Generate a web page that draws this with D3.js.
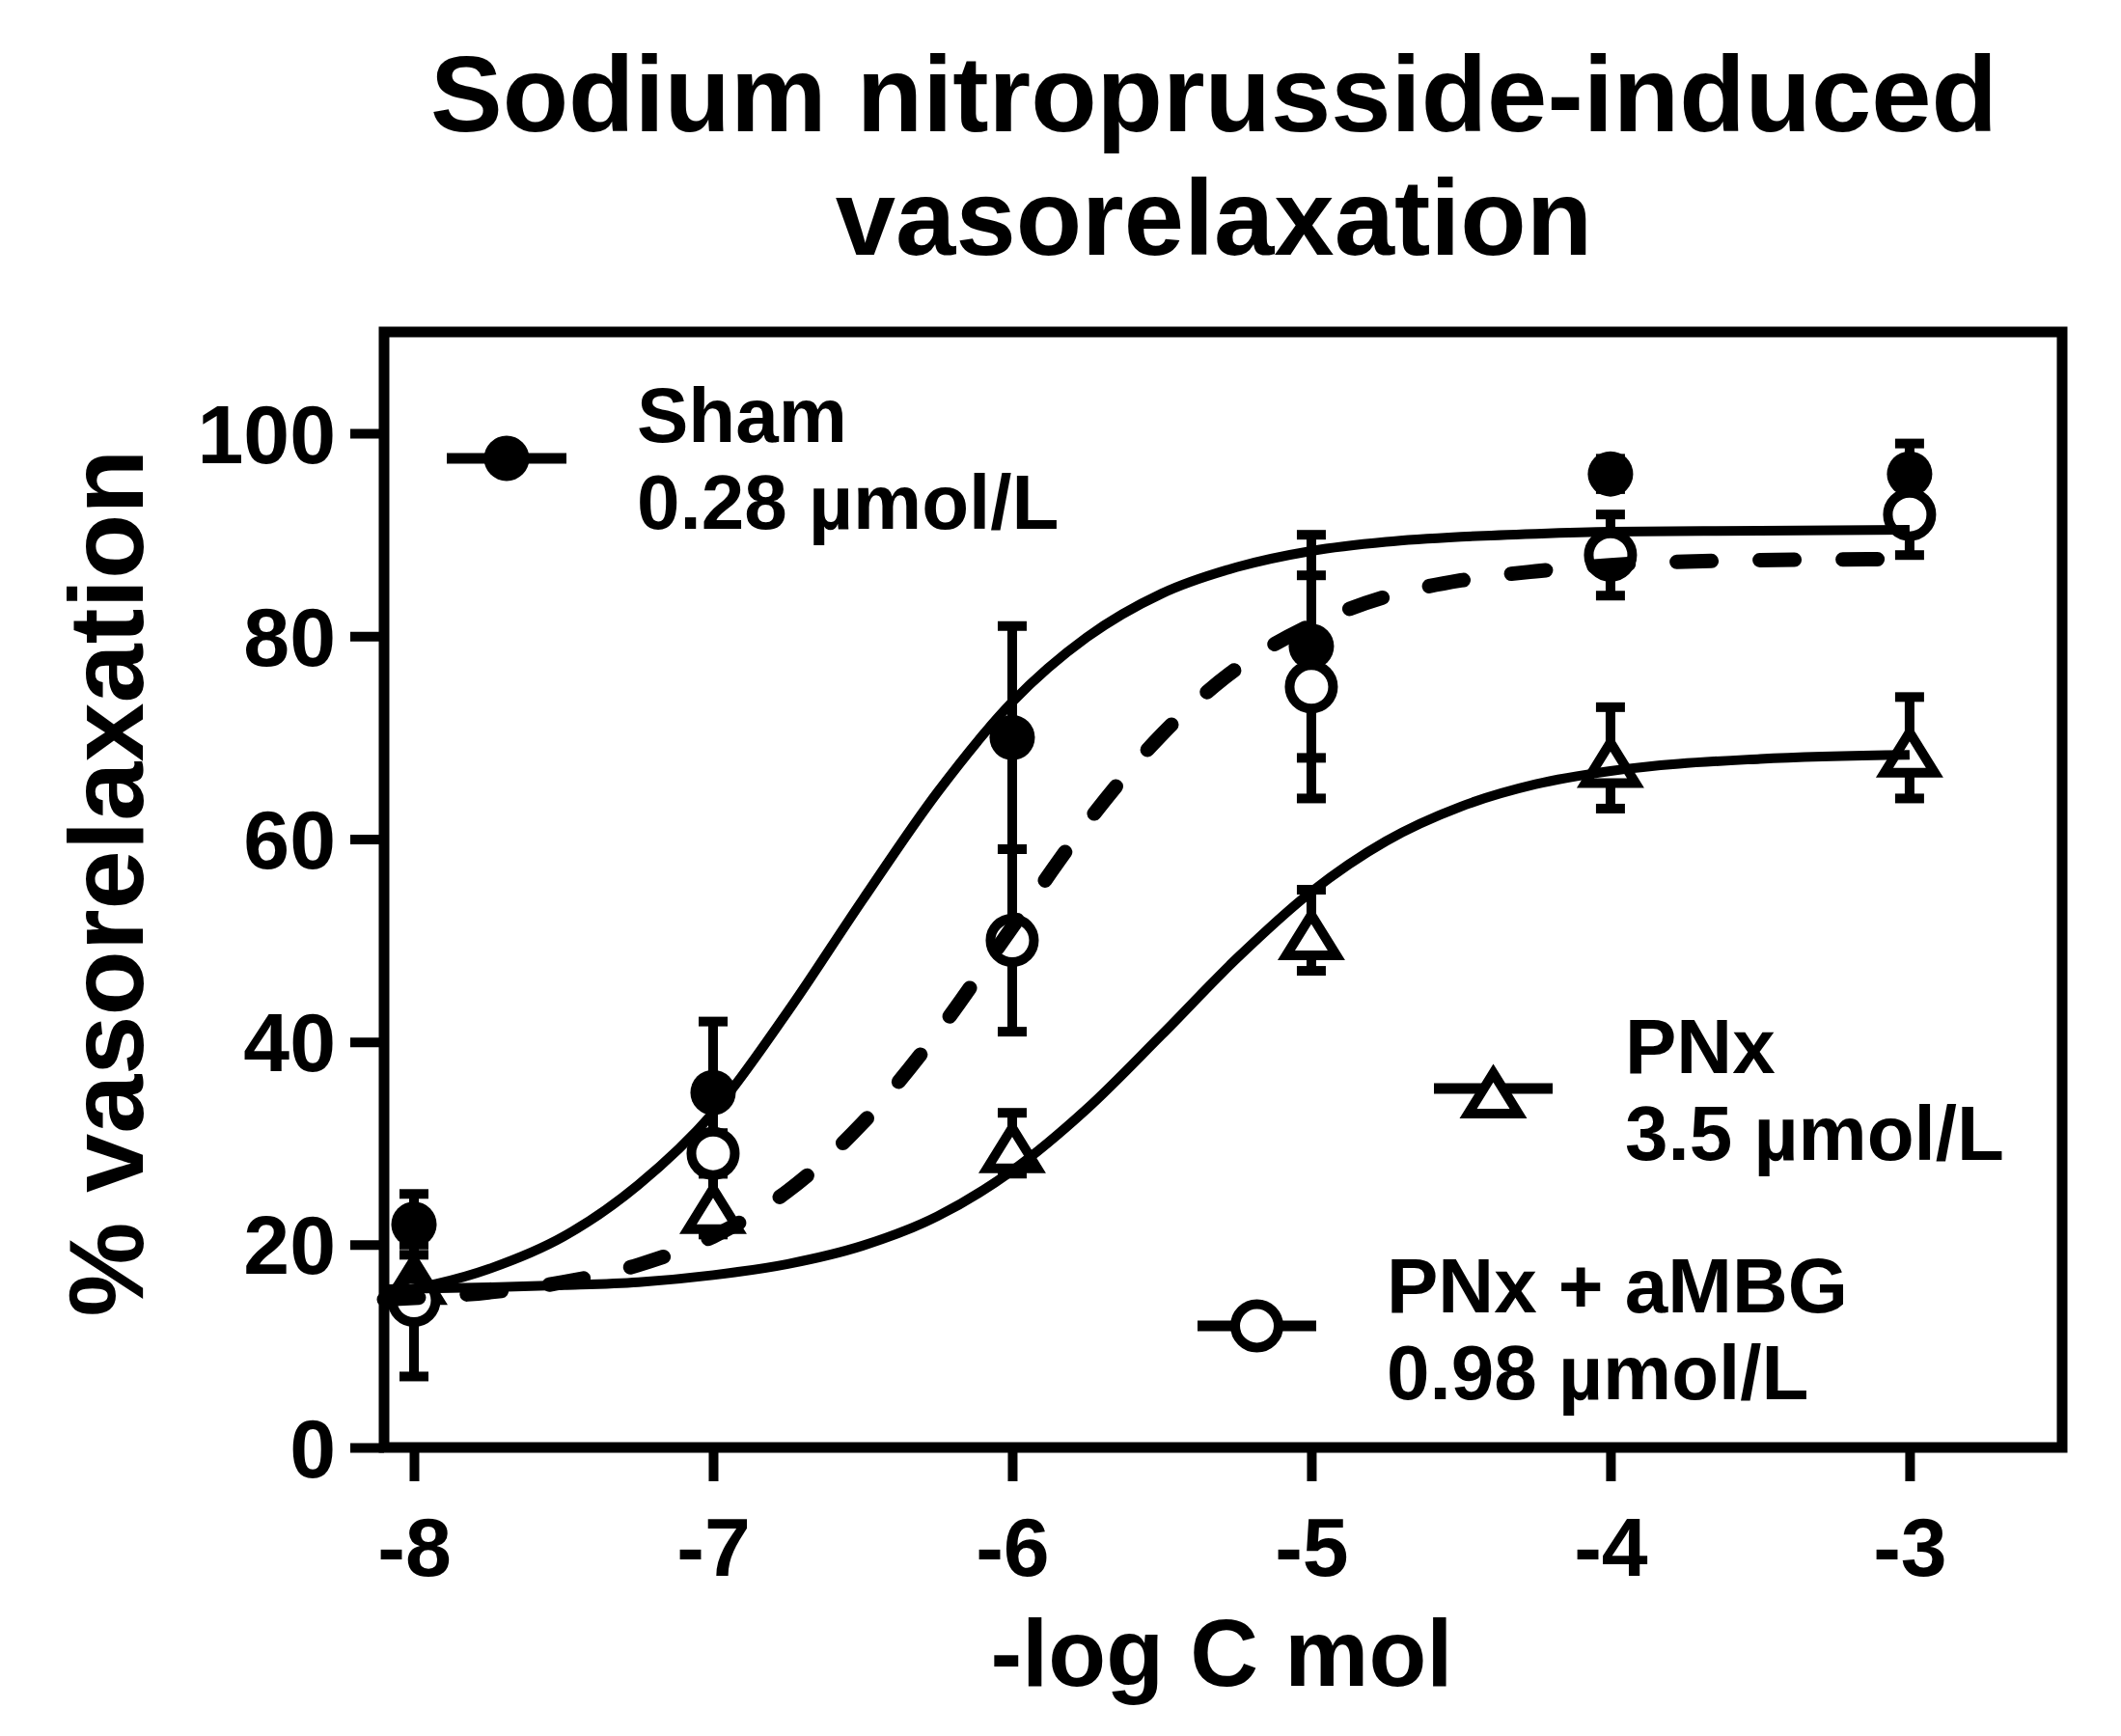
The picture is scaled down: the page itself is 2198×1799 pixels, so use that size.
<!DOCTYPE html>
<html><head><meta charset="utf-8">
<script src="https://cdn.jsdelivr.net/npm/d3@7"></script>
<style>
body{margin:0;background:#fff}
svg{display:block}
text{font-family:Arial,"Liberation Sans",sans-serif;font-weight:bold;fill:#000}
</style>
</head><body>
<svg id="c" width="2198" height="1799"></svg>
<script>
// ---- data ----
const doses = [-8, -7, -6, -5, -4, -3];
const xTicks = [-8, -7, -6, -5, -4, -3];
const yTicks = [0, 20, 40, 60, 80, 100];
const seriesNames = ["Sham", "PNx", "PNx + aMBG"];
const ec50Labels = ["0.28 µmol/L", "3.5 µmol/L", "0.98 µmol/L"];
const shamMean = [22, 35, 70, 79, 96, 96];
const shamSem  = [3, 7, 11, 11, 1.5, 3];
const pnxMean  = [17, 24, 30, 51, 68, 69];
const pnxSem   = [3, 3, 3, 4, 5, 5];
const ambgMean = [14.5, 29, 50, 75, 88, 92];
const ambgSem  = [7.5, 2, 9, 11, 4, 4];
const curveX     = [-8.1, -7.75, -7.5, -7.25, -7, -6.75, -6.5, -6.25, -6, -5.75, -5.5, -5.25, -5, -4.75, -4.5, -4.25, -4, -3.5, -3];
const shamCurve  = [15.1, 17.6, 20.8, 25.9, 33.0, 43.0, 54.0, 64.6, 73.5, 79.9, 84.2, 86.8, 88.4, 89.3, 89.8, 90.1, 90.3, 90.4, 90.5];
const pnxCurve   = [15.6, 15.8, 16.0, 16.3, 17.0, 18.1, 19.9, 22.8, 27.3, 33.4, 40.7, 48.2, 54.8, 59.8, 63.2, 65.4, 66.7, 67.9, 68.3];
const ambgCurve  = [14.6, 15.3, 16.3, 18.0, 20.8, 25.3, 32.0, 40.9, 51.3, 61.6, 70.3, 76.8, 81.1, 83.9, 85.5, 86.4, 87.0, 87.5, 87.6];

// ---- layout ----
const L = 398, R = 2137, T = 344, B = 1500;
const svg = d3.select("#c");
const x = d3.scaleLinear().domain([-8.1, -2.49]).range([L, R]);
const y = d3.scaleLinear().domain([0, 110]).range([B, T]);

// title
svg.append("text").attr("x", 1258).attr("y", 136).attr("text-anchor", "middle")
  .style("font-size", "112px").text("Sodium nitroprusside-induced");
svg.append("text").attr("x", 1258).attr("y", 264).attr("text-anchor", "middle")
  .style("font-size", "112px").text("vasorelaxation");

// axes
const fmt = d => String(d);
const yAxis = svg.append("g").attr("transform", `translate(${L},0)`)
  .call(d3.axisLeft(y).tickValues(yTicks).tickSize(35).tickPadding(15).tickFormat(fmt));
yAxis.select(".domain").remove();
yAxis.selectAll(".tick line").attr("stroke", "#000").attr("stroke-width", 10);
yAxis.selectAll(".tick text").style("font-size", "86px").attr("dy", "0.35em");

const xAxis = svg.append("g").attr("transform", `translate(0,${B})`)
  .call(d3.axisBottom(x).tickValues(xTicks).tickSize(35).tickFormat(fmt));
xAxis.select(".domain").remove();
xAxis.selectAll(".tick line").attr("stroke", "#000").attr("stroke-width", 10);
xAxis.selectAll(".tick text").style("font-size", "86px").attr("y", 133).attr("dy", 0);
svg.selectAll(".tick text").attr("fill", "#000").attr("font-size", null).attr("font-family", null);
svg.selectAll("g").attr("font-family", null).attr("font-size", null);

// frame
svg.append("rect").attr("x", L).attr("y", T).attr("width", R - L).attr("height", B - T)
  .attr("fill", "none").attr("stroke", "#000").attr("stroke-width", 11);

// axis titles
svg.append("text").attr("x", 1266).attr("y", 1747).attr("text-anchor", "middle")
  .style("font-size", "98px").text("-log C mol");
svg.append("text").attr("transform", "translate(148,915) rotate(-90)").attr("text-anchor", "middle")
  .style("font-size", "110px").text("% vasorelaxation");

// markers
const triPath = "M0,-16 L26,26 L-26,26 Z";
function drawMarker(g, kind, cx, cy) {
  if (kind === "filled") {
    g.append("circle").attr("cx", cx).attr("cy", cy).attr("r", 23.5).attr("fill", "#000");
  } else if (kind === "open") {
    g.append("circle").attr("cx", cx).attr("cy", cy).attr("r", 22.5)
      .attr("fill", "#fff").attr("stroke", "#000").attr("stroke-width", 10);
  } else {
    g.append("path").attr("d", triPath).attr("transform", `translate(${cx},${cy})`)
      .attr("fill", "#fff").attr("stroke", "#000").attr("stroke-width", 10).attr("stroke-linejoin", "miter");
  }
}
function drawSeries(means, sems, kind) {
  const g = svg.append("g");
  doses.forEach((d, i) => {
    const cx = x(d), top = y(means[i] + sems[i]), bot = y(means[i] - sems[i]);
    g.append("line").attr("x1", cx).attr("x2", cx).attr("y1", top).attr("y2", bot)
      .attr("stroke", "#000").attr("stroke-width", 10);
    [top, bot].forEach(v => g.append("line").attr("x1", cx - 15).attr("x2", cx + 15)
      .attr("y1", v).attr("y2", v).attr("stroke", "#000").attr("stroke-width", 10));
  });
  doses.forEach((d, i) => drawMarker(g, kind, x(d), y(means[i])));
}
drawSeries(shamMean, shamSem, "filled");
drawSeries(pnxMean, pnxSem, "tri");
drawSeries(ambgMean, ambgSem, "open");

// fitted curves
const line = d3.line().x(d => x(d[0])).y(d => y(d[1])).curve(d3.curveMonotoneX);
const zip = arr => curveX.map((c, i) => [c, arr[i]]);
svg.append("path").attr("d", line(zip(shamCurve))).attr("fill", "none").attr("stroke", "#000").attr("stroke-width", 10);
svg.append("path").attr("d", line(zip(pnxCurve))).attr("fill", "none").attr("stroke", "#000").attr("stroke-width", 10);
svg.append("path").attr("d", line(zip(ambgCurve))).attr("fill", "none").attr("stroke", "#000").attr("stroke-width", 15)
  .attr("stroke-dasharray", "36,50").attr("stroke-linecap", "round");

// legend
const legend = [
  {x1: 463, x2: 587, cy: 475, kind: "filled", tx: 660, ty: 458},
  {x1: 1486, x2: 1609, cy: 1128, kind: "tri", tx: 1684, ty: 1112},
  {x1: 1241, x2: 1364, cy: 1374, kind: "open", tx: 1437, ty: 1360}
];
legend.forEach((lg, i) => {
  const g = svg.append("g");
  g.append("line").attr("x1", lg.x1).attr("x2", lg.x2).attr("y1", lg.cy).attr("y2", lg.cy)
    .attr("stroke", "#000").attr("stroke-width", 11);
  drawMarker(g, lg.kind, (lg.x1 + lg.x2) / 2, lg.cy);
  g.append("text").attr("x", lg.tx).attr("y", lg.ty).style("font-size", "80px").text(seriesNames[i]);
  g.append("text").attr("x", lg.tx).attr("y", lg.ty + 90).style("font-size", "80px").text(ec50Labels[i]);
});
</script>
</body></html>
